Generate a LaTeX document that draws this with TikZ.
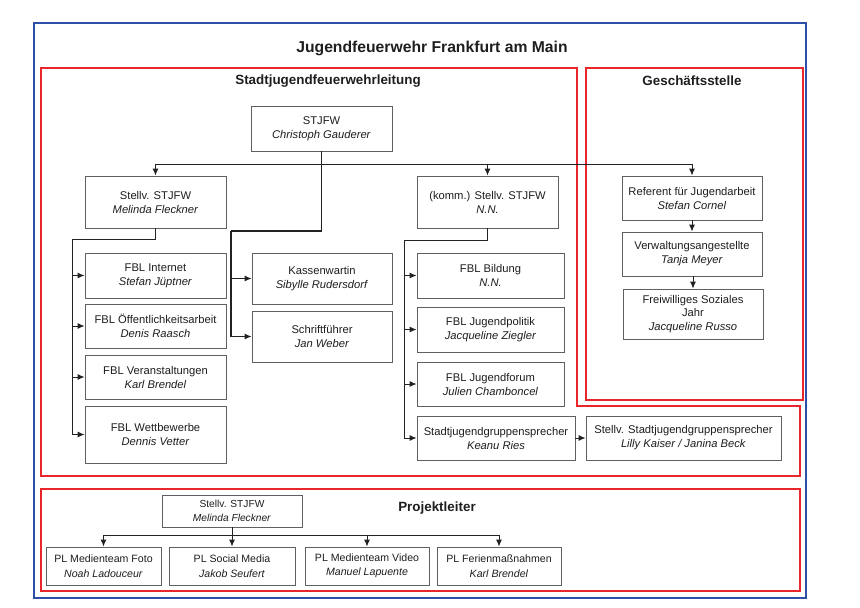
\documentclass[tikz,border=0pt]{standalone}
\usepackage{fontspec}
\setmainfont{Liberation Sans}
\usetikzlibrary{arrows.meta}
\definecolor{frameblue}{HTML}{2E4FA8}
\definecolor{framered}{HTML}{E8262B}
\definecolor{boxgray}{HTML}{606060}
\definecolor{txt}{HTML}{1E1E1E}
\definecolor{linec}{HTML}{222222}
\tikzset{
  box/.style={draw=boxgray, line width=0.9pt, fill=white, align=center, inner sep=0pt,
    text=txt, font=\fontsize{11.2}{14}\selectfont},
  sbox/.style={box, font=\fontsize{10.6}{14.5}\selectfont},
  conn/.style={draw=linec, line width=0.9pt},
  thickconn/.style={draw=linec, line width=1.6pt},
  arr/.style={conn, -{Latex[length=7pt,width=6pt]}},
  bframe/.style={draw=frameblue, line width=1.6pt},
  rframe/.style={draw=framered, line width=1.7pt},
  heading/.style={font=\bfseries\fontsize{13.4}{16}\selectfont, text=txt},
}
\begin{document}
\begin{tikzpicture}[x=1pt,y=-1pt]
\useasboundingbox (0,0) rectangle (860,608);
% frames
\draw[bframe] (34,23) rectangle (806,598);
\draw[rframe] (41,68) -- (577,68) -- (577,406) -- (800,406) -- (800,476) -- (41,476) -- cycle;
\draw[rframe] (586,68) rectangle (803,400);
\draw[rframe] (41,489) rectangle (800,591);
% headings
\node[font=\bfseries\fontsize{15.7}{18}\selectfont, text=txt] (title) at (432,48) {Jugendfeuerwehr Frankfurt am Main};
\node[heading] (hsjfl) at (328,81) {Stadtjugendfeuerwehrleitung};
\node[heading] (hgs) at (692,81) {Geschäftsstelle};
\node[heading] (hpl) at (437,508) {Projektleiter};
% main boxes
\node[box, minimum width=141, minimum height=45] (stjfw) at (321.5,128.5) {STJFW\\\textit{Christoph Gauderer}};
\node[box, minimum width=141, minimum height=52] (stv) at (155.5,202) {Stellv. STJFW\\\textit{Melinda Fleckner}};
\node[box, minimum width=141, minimum height=52] (komm) at (487.5,202) {(komm.) Stellv. STJFW\\\textit{N.N.}};
\node[box, minimum width=140, minimum height=44] (ref) at (692,198) {Referent für Jugendarbeit\\\textit{Stefan Cornel}};
\node[box, minimum width=140, minimum height=44] (verw) at (692,254) {Verwaltungsangestellte\\\textit{Tanja Meyer}};
\node[box, minimum width=140, minimum height=50, font=\fontsize{11.2}{13.5}\selectfont] (fsj) at (693,314) {Freiwilliges Soziales\\Jahr\\\textit{Jacqueline Russo}};
\node[box, minimum width=141, minimum height=45] (internet) at (155.5,275.5) {FBL Internet\\\textit{Stefan Jüptner}};
\node[box, minimum width=141, minimum height=44] (oeff) at (155.5,326) {FBL Öffentlichkeitsarbeit\\\textit{Denis Raasch}};
\node[box, minimum width=141, minimum height=44] (veran) at (155.5,377) {FBL Veranstaltungen\\\textit{Karl Brendel}};
\node[box, minimum width=141, minimum height=57] (wett) at (155.5,434.5) {FBL Wettbewerbe\\\textit{Dennis Vetter}};
\node[box, minimum width=140, minimum height=51] (kasse) at (322,278.5) {Kassenwartin\\\textit{Sibylle Rudersdorf}};
\node[box, minimum width=140, minimum height=51] (schrift) at (322,336.5) {Schriftführer\\\textit{Jan Weber}};
\node[box, minimum width=147, minimum height=45] (bildung) at (490.5,275.5) {FBL Bildung\\\textit{N.N.}};
\node[box, minimum width=147, minimum height=45] (jpol) at (490.5,329.5) {FBL Jugendpolitik\\\textit{Jacqueline Ziegler}};
\node[box, minimum width=147, minimum height=44] (jforum) at (490.5,384) {FBL Jugendforum\\\textit{Julien Chamboncel}};
\node[box, minimum width=158, minimum height=44] (sjgs) at (496,438) {Stadtjugendgruppensprecher\\\textit{Keanu Ries}};
\node[box, minimum width=195, minimum height=44] (stvsjgs) at (683.5,438) {Stellv. Stadtjugendgruppensprecher\\\textit{Lilly Kaiser / Janina Beck}};
% project boxes
\node[sbox, minimum width=140, minimum height=32, font=\fontsize{10.2}{14}\selectfont] (pstv) at (232,511) {Stellv. STJFW\\\textit{Melinda Fleckner}};
\node[sbox, minimum width=115, minimum height=38] (foto) at (103.5,566) {PL Medienteam Foto\\\textit{Noah Ladouceur}};
\node[sbox, minimum width=126, minimum height=38] (social) at (232,566) {PL Social Media\\\textit{Jakob Seufert}};
\node[sbox, minimum width=124, minimum height=38] (video) at (367,566) {PL Medienteam Video\\\textit{Manuel Lapuente}};
\node[sbox, minimum width=124, minimum height=38] (ferien) at (499,566) {PL Ferienmaßnahmen\\\textit{Karl Brendel}};
% connectors: top bus
\coordinate (bus) at (321.5,164);
\draw[conn] (stjfw.south) -- (bus);
\draw[arr] (bus) -| (stv.north);
\draw[arr] (bus) -| (komm.north);
\draw[arr] (bus) -| (ref.north);
% thick line to Kasse/Schrift
\coordinate (kb) at (231,231);
\draw[thickconn] (stjfw.south) |- (kb);
\draw[thickconn] (kb) -- (kb |- schrift.west);
\draw[arr] (kb |- schrift.west) -- (schrift.west);
\draw[arr] (kb |- kasse.west) -- (kasse.west);
% left branch
\coordinate (lb) at (72.7,239);
\draw[conn] (stv.south) |- (lb) -- (lb |- wett.west);
\draw[arr] (lb |- internet.west) -- (internet.west);
\draw[arr] (lb |- oeff.west) -- (oeff.west);
\draw[arr] (lb |- veran.west) -- (veran.west);
\draw[arr] (lb |- wett.west) -- (wett.west);
% komm branch
\coordinate (rb) at (404,240);
\draw[conn] (komm.south) |- (rb) -- (rb |- sjgs.west);
\draw[arr] (rb |- bildung.west) -- (bildung.west);
\draw[arr] (rb |- jpol.west) -- (jpol.west);
\draw[arr] (rb |- jforum.west) -- (jforum.west);
\draw[arr] (rb |- sjgs.west) -- (sjgs.west);
\draw[arr] (sjgs.east) -- (stvsjgs.west);
% Geschäftsstelle chain
\draw[arr] (ref.south) -- (verw.north);
\draw[arr] (verw.south -| fsj.north) -- (fsj.north);
% project bus
\coordinate (pbus) at (232,535);
\draw[conn] (pstv.south) -- (pbus);
\draw[conn] (pbus -| foto.north) -- (pbus -| ferien.north);
\draw[arr] (pbus -| foto.north) -- (foto.north);
\draw[arr] (pbus) -- (social.north);
\draw[arr] (pbus -| video.north) -- (video.north);
\draw[arr] (pbus -| ferien.north) -- (ferien.north);
\end{tikzpicture}
\end{document}
